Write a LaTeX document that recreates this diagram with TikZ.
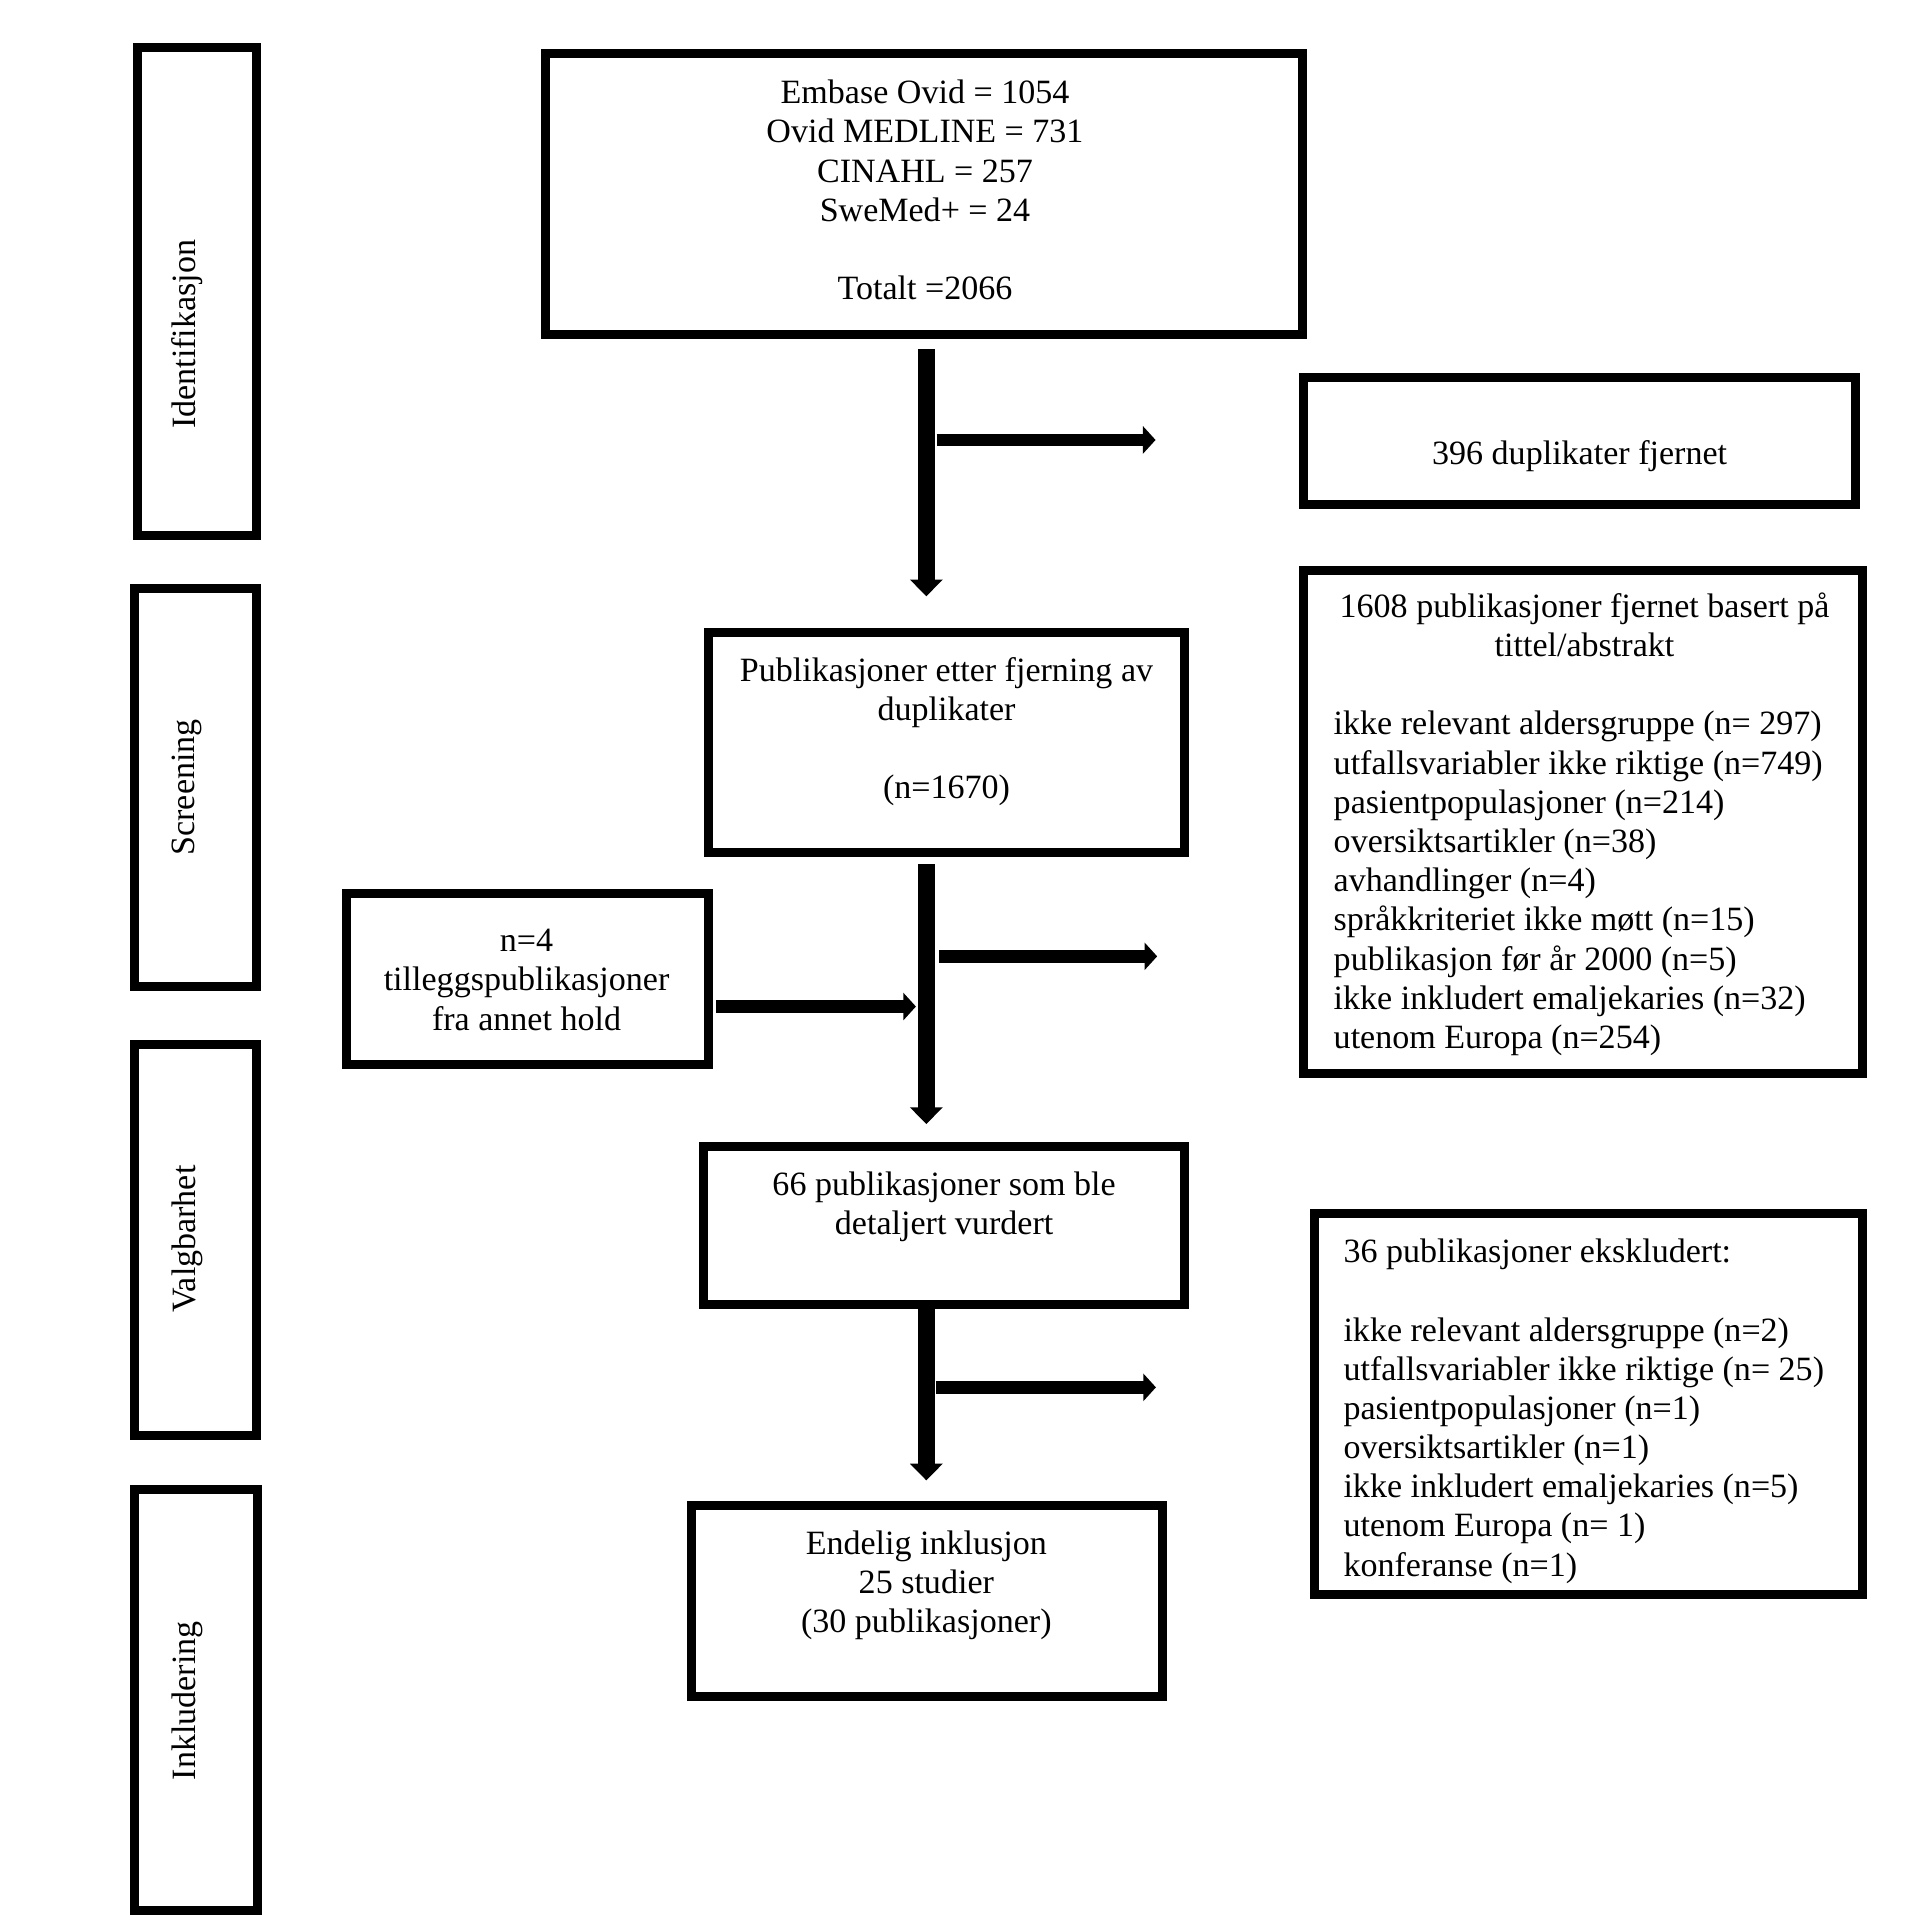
\documentclass[tikz,border=0pt]{standalone}
\usepackage{fontspec}
\setmainfont{Liberation Serif}
\usetikzlibrary{arrows.meta,calc}
\newcommand{\fl}{\rule{0pt}{24pt}}
\begin{document}
\begin{tikzpicture}[x=1pt,y=-1pt,
  box/.style={draw, line width=7.35pt, rectangle, inner sep=0pt},
  txt/.style={inner sep=0pt, align=center, font=\fontsize{27.8}{32}\selectfont},
  txtl/.style={inner sep=0pt, align=left, font=\fontsize{27.8}{32}\selectfont},
  varrow/.style={line width=13.6pt, -{Triangle[width=26pt,length=13.7pt]}},
  harrow/.style={line width=10.4pt, -{Triangle[width=22pt,length=10.3pt]}}]
\useasboundingbox[fill=white] (0,0) rectangle (1568,1575.35);

% stage boxes
\node[box, minimum width=96.65pt, minimum height=398.65pt] (s1) at (161,238) {};
\node[box, minimum width=99.65pt, minimum height=324.65pt] (s2) at (159.5,643) {};
\node[box, minimum width=99.65pt, minimum height=319.65pt] (s3) at (159.5,1012.5) {};
\node[box, minimum width=100.65pt, minimum height=343.65pt] (s4) at (160,1388.5) {};
\node[txt, rotate=90] (s1T) at (153,273) {Identifikasjon};
\node[txt, rotate=90] (s2T) at (153,643) {Screening};
\node[txt, rotate=90] (s3T) at (153,1012) {Valgbarhet};
\node[txt, rotate=90] (s4T) at (153,1389) {Inkludering};

% main boxes
\node[box, minimum width=617.85pt, minimum height=229.35pt] (top) at (754.4,158.65) {};
\node[txt, anchor=north] (topT) at (755.4,60.5) {\fl Embase Ovid = 1054\\Ovid MEDLINE = 731\\CINAHL = 257\\SweMed+ = 24\\[32pt]Totalt =2066};

\node[box, minimum width=450.65pt, minimum height=103.65pt] (dup) at (1290,360.5) {};
\node[txt, anchor=north] (dupT) at (1290,355) {\fl 396 duplikater fjernet};

\node[box, minimum width=456.65pt, minimum height=410.65pt] (scr) at (1293,671) {};
\node[txt, anchor=north] (scrT) at (1294,480) {\fl 1608 publikasjoner fjernet basert på\\tittel/abstrakt};
\node[txtl, anchor=north west] (scrL) at (1089,576) {\fl ikke relevant aldersgruppe (n= 297)\\utfallsvariabler ikke riktige (n=749)\\pasientpopulasjoner (n=214)\\oversiktsartikler (n=38)\\avhandlinger (n=4)\\språkkriteriet ikke møtt (n=15)\\publikasjon før år 2000 (n=5)\\ikke inkludert emaljekaries (n=32)\\utenom Europa (n=254)};

\node[box, minimum width=388.65pt, minimum height=179.65pt] (pub) at (773,606.5) {};
\node[txt, anchor=north] (pubT) at (773,532) {\fl Publikasjoner etter fjerning av\\duplikater\\[32pt](n=1670)};

\node[box, minimum width=295.65pt, minimum height=139.65pt] (add) at (430.5,799.5) {};
\node[txt, anchor=north] (addT) at (430,753) {\fl n=4\\tilleggspublikasjoner\\fra annet hold};

\node[box, minimum width=392.65pt, minimum height=128.65pt] (elig) at (771,1001) {};
\node[txt, anchor=north] (eligT) at (771,952) {\fl 66 publikasjoner som ble\\detaljert vurdert};

\node[box, minimum width=447.65pt, minimum height=310.95pt] (excl) at (1297.5,1146.85) {};
\node[txtl, anchor=north west] (exclT) at (1097,1007) {\fl 36 publikasjoner ekskludert:\\[32pt]ikke relevant aldersgruppe (n=2)\\utfallsvariabler ikke riktige (n= 25)\\pasientpopulasjoner (n=1)\\oversiktsartikler (n=1)\\ikke inkludert emaljekaries (n=5)\\utenom Europa (n= 1)\\konferanse (n=1)};

\node[box, minimum width=384.85pt, minimum height=156.25pt] (incl) at (756.9,1307.2) {};
\node[txt, anchor=north] (inclT) at (756.5,1245) {\fl Endelig inklusjon\\25 studier\\(30 publikasjoner)};

% connectors
\coordinate (spine) at (756.5,0);
\coordinate (j1) at (756.5,359.3);
\coordinate (j2) at (756.5,781);
\coordinate (j3) at (756.5,822);
\coordinate (j4) at (756.5,1133);

\draw[varrow, shorten <=8pt, shorten >=26pt] (top.south -| spine) -- (pub.north -| spine);
\draw[varrow, shorten <=6pt, shorten >=15pt] (pub.south -| spine) -- (elig.north -| spine);
\draw[varrow, shorten <=0pt, shorten >=16.4pt] (elig.south -| spine) -- (incl.north -| spine);

\draw[harrow, shorten <=8.5pt, shorten >=117.3pt] (j1) -- (j1 -| dup.west);
\draw[harrow, shorten <=10.5pt, shorten >=116pt] (j2) -- (j2 -| scr.west);
\draw[harrow, shorten <=7.5pt, shorten >=126pt] (j4) -- (j4 -| excl.west);
\draw[harrow, shorten <=3pt, shorten >=8.5pt] (j3 -| add.east) -- (j3);
\end{tikzpicture}
\end{document}
